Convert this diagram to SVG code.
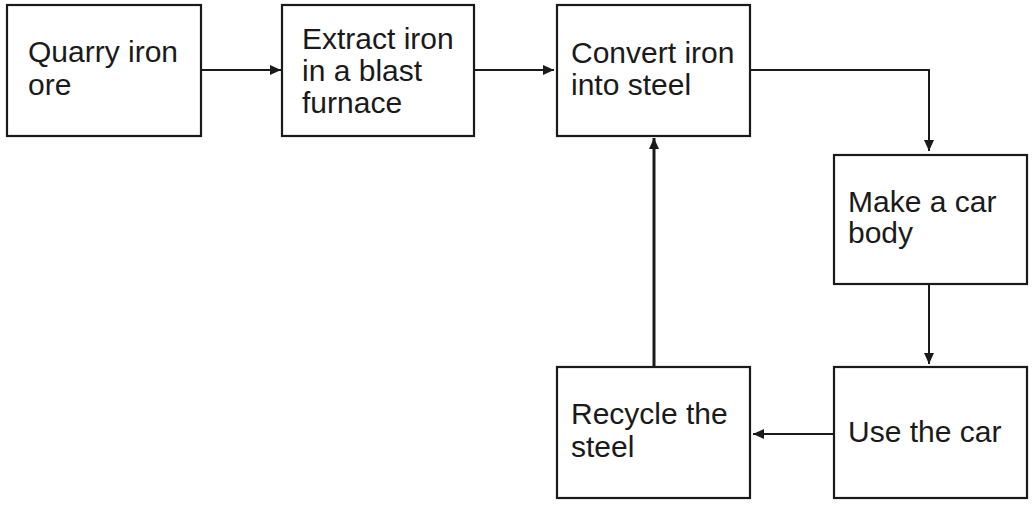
<svg xmlns="http://www.w3.org/2000/svg" width="1034" height="505" viewBox="0 0 1034 505">
<defs>
<style>
.box{fill:#fff;stroke:#1a1a1a;stroke-width:2.2}
.t{font-family:"Liberation Sans",Arial,sans-serif;font-size:30px;fill:#1a1a1a}
.c{fill:none;stroke:#1a1a1a;stroke-width:2}
.thick{stroke-width:3}
</style>
<marker id="ah" markerWidth="12" markerHeight="10" refX="11" refY="5" orient="auto" markerUnits="userSpaceOnUse">
<path d="M0,0 L11,5 L0,10 Z" fill="#1a1a1a"/>
</marker>
</defs>
<rect width="1034" height="505" fill="#fff"/>
<g id="connectors">
<line class="c" x1="201" y1="70" x2="281" y2="70" marker-end="url(#ah)"/>
<line class="c" x1="474" y1="70" x2="554" y2="70" marker-end="url(#ah)"/>
<polyline class="c" points="750,70 929,70 929,151" marker-end="url(#ah)"/>
<line class="c" x1="929" y1="284" x2="929" y2="364" marker-end="url(#ah)"/>
<line class="c" x1="834" y1="434" x2="753" y2="434" marker-end="url(#ah)"/>
<line class="c thick" x1="654" y1="367" x2="654" y2="138" marker-end="url(#ah)"/>
</g>
<g id="quarry">
<rect class="box" x="7" y="5" width="194" height="131"/>
<text class="t" x="28" y="62">Quarry iron</text>
<text class="t" x="28" y="95">ore</text>
</g>
<g id="extract">
<rect class="box" x="282" y="5" width="192" height="131"/>
<text class="t" x="302" y="49">Extract iron</text>
<text class="t" x="302" y="81">in a blast</text>
<text class="t" x="302" y="113">furnace</text>
</g>
<g id="convert">
<rect class="box" x="557" y="5" width="193" height="131"/>
<text class="t" x="571" y="63">Convert iron</text>
<text class="t" x="571" y="95">into steel</text>
</g>
<g id="make">
<rect class="box" x="834" y="155" width="193" height="129"/>
<text class="t" x="848" y="212">Make a car</text>
<text class="t" x="848" y="243">body</text>
</g>
<g id="use">
<rect class="box" x="834" y="367" width="193" height="131"/>
<text class="t" x="848" y="442">Use the car</text>
</g>
<g id="recycle">
<rect class="box" x="557" y="367" width="193" height="131"/>
<text class="t" x="571" y="424">Recycle the</text>
<text class="t" x="571" y="457">steel</text>
</g>
</svg>
